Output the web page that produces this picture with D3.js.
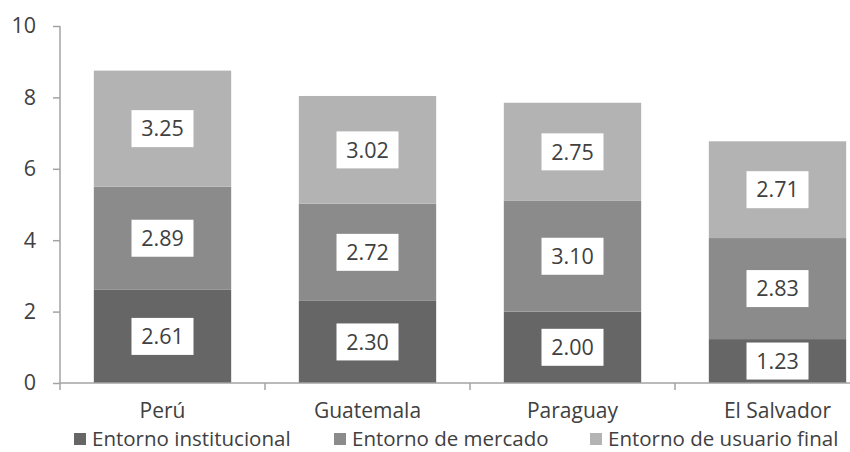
<!DOCTYPE html>
<html>
<head>
<meta charset="utf-8">
<script src="https://cdn.jsdelivr.net/npm/d3@7"></script>
<style>
  html, body { margin: 0; padding: 0; background: #fff; }
  svg { display: block; font-family: "Open Sans", Lato, sans-serif; }
</style>
</head>
<body>
<svg id="chart" width="850" height="452"></svg>
<script>
// Countries along the x axis
const countries = ["Perú", "Guatemala", "Paraguay", "El Salvador"];
// Stacked components (bottom to top)
const seriesNames = ["Entorno institucional", "Entorno de mercado", "Entorno de usuario final"];
const institucional = [2.61, 2.30, 2.00, 1.23];
const mercado = [2.89, 2.72, 3.10, 2.83];
const usuarioFinal = [3.25, 3.02, 2.75, 2.71];
const yTicks = [0, 2, 4, 6, 8, 10];

const colors = ["#666666", "#8b8b8b", "#b3b3b3"];
const textColor = "#404040";
const axisColor = "#a3a3a3";

const svg = d3.select("#chart");
const plot = { left: 60, right: 880, top: 26, bottom: 383 };

const rows = countries.map((c, i) => ({
  country: c,
  [seriesNames[0]]: institucional[i],
  [seriesNames[1]]: mercado[i],
  [seriesNames[2]]: usuarioFinal[i]
}));
const stacked = d3.stack().keys(seriesNames)(rows);

// Bars sit inside category bands; boundary ticks use the full bands
const xb = d3.scaleBand().domain(countries).range([plot.left, plot.right]);
const x = d3.scaleBand().domain(countries).range([plot.left, plot.right]).paddingInner(0.33).paddingOuter(0.165);
const y = d3.scaleLinear().domain([0, 10]).range([plot.bottom, plot.top]);

// Stacked bars
const layers = svg.append("g").selectAll("g").data(stacked).join("g")
  .attr("fill", (d, i) => colors[i]);
layers.selectAll("rect").data(d => d).join("rect")
  .attr("x", d => x(d.data.country))
  .attr("width", x.bandwidth())
  .attr("y", d => y(d[1]))
  .attr("height", d => y(d[0]) - y(d[1]));

// Segment values on white boxes
const boxW = 62, boxH = 37;
const labels = svg.append("g").selectAll("g").data(stacked).join("g");
const lab = labels.selectAll("g").data(d => d).join("g")
  .attr("transform", d => `translate(${x(d.data.country) + x.bandwidth() / 2},${y((d[0] + d[1]) / 2)})`);
lab.append("rect")
  .attr("x", -boxW / 2).attr("y", -boxH / 2)
  .attr("width", boxW).attr("height", boxH)
  .attr("fill", "#fff");
lab.append("text")
  .attr("text-anchor", "middle").attr("dy", "0.36em")
  .attr("font-size", 21.5).attr("fill", textColor)
  .text(d => (d[1] - d[0]).toFixed(2));

// Y axis
const yAxis = svg.append("g").attr("transform", `translate(${plot.left},0)`)
  .call(d3.axisLeft(y).tickValues(yTicks).tickSize(7).tickPadding(17).tickFormat(d3.format("d")));
yAxis.select(".domain").attr("stroke", axisColor).attr("stroke-width", 1.5)
  .attr("d", `M0,${plot.top}V${plot.bottom + 7}`);
yAxis.selectAll(".tick line").attr("stroke", axisColor).attr("stroke-width", 1.5);
yAxis.selectAll(".tick text").attr("fill", textColor).attr("font-size", 21.5)
  .attr("font-family", "'Open Sans', sans-serif");

// X axis baseline with band boundary ticks
const xAxis = svg.append("g");
xAxis.append("line")
  .attr("x1", plot.left).attr("x2", plot.right)
  .attr("y1", plot.bottom).attr("y2", plot.bottom)
  .attr("stroke", axisColor).attr("stroke-width", 1.5);
xAxis.selectAll("line.b").data(countries.slice(0, -1)).join("line").attr("class", "b")
  .attr("x1", d => xb(d) + xb.bandwidth()).attr("x2", d => xb(d) + xb.bandwidth())
  .attr("y1", plot.bottom).attr("y2", plot.bottom + 7)
  .attr("stroke", axisColor).attr("stroke-width", 1.5);
xAxis.selectAll("text").data(countries).join("text")
  .attr("x", d => xb(d) + xb.bandwidth() / 2)
  .attr("y", 418)
  .attr("text-anchor", "middle")
  .attr("font-size", 21).attr("fill", textColor)
  .text(d => d);

// Legend
const legendX = [74, 334, 590];
const legend = svg.append("g").selectAll("g").data(seriesNames).join("g")
  .attr("transform", (d, i) => `translate(${legendX[i]},446)`);
legend.append("rect")
  .attr("x", 0).attr("y", -13).attr("width", 12).attr("height", 12)
  .attr("fill", (d, i) => colors[i]);
legend.append("text")
  .attr("x", 18)
  .attr("font-size", 20.5).attr("fill", textColor)
  .text(d => d);
</script>
</body>
</html>
